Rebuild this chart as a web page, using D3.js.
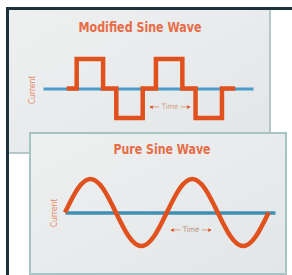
<!DOCTYPE html>
<html>
<head>
<meta charset="utf-8">
<script src="https://cdn.jsdelivr.net/npm/d3@7"></script>
<style>
  html, body { margin: 0; padding: 0; background: #fff; }
  svg { display: block; }
  .title { font-family: "Liberation Sans Narrow", "DejaVu Sans Condensed", sans-serif; font-weight: bold; }
</style>
</head>
<body>
<div id="chart"></div>
<script>
// modified sine wave: step breakpoints (time units) and levels
var modTime = [0, 0.75, 2.75, 3.75, 5.75, 6.75, 8.75, 9.75, 11.75, 12.75];
var modLevel = [0, 1, 0, -1, 0, 1, 0, -1, 0, 0];

// pure sine wave: samples every eighth of a period
var sineTime = [0, 0.5, 1, 1.5, 2, 2.5, 3, 3.5, 4, 4.5, 5, 5.5, 6, 6.5, 7, 7.5, 8];
var sineLevel = [0, 0.71, 1, 0.71, 0, -0.71, -1, -0.71, 0, 0.71, 1, 0.71, 0, -0.71, -1, -0.71, 0];

var titles = ["Modified Sine Wave", "Pure Sine Wave"];
var yLabel = "Current";
var xLabel = "Time";

var W = 292, H = 275;
var orange = "#e0511e", blue = "#4b9cc6";

var svg = d3.select("#chart").append("svg")
    .attr("width", W).attr("height", H);

var defs = svg.append("defs");
var g1 = defs.append("linearGradient").attr("id", "bg").attr("x1", 0).attr("y1", 0).attr("x2", 1).attr("y2", 1);
g1.append("stop").attr("offset", "0%").attr("stop-color", "#eef0f0");
g1.append("stop").attr("offset", "100%").attr("stop-color", "#e3e6e8");

// top panel
svg.append("rect").attr("x", 7).attr("y", 9).attr("width", 263).attr("height", 144)
    .attr("fill", "url(#bg)").attr("stroke", "#9fb8bb").attr("stroke-width", 1.5);
// bottom panel
svg.append("rect").attr("x", 30).attr("y", 133).attr("width", 256).attr("height", 141)
    .attr("fill", "url(#bg)").attr("stroke", "#a6c4c4").attr("stroke-width", 2);
// dark frame edges
svg.append("rect").attr("x", 6).attr("y", 7).attr("width", W - 6).attr("height", 3).attr("fill", "#1e323c");
svg.append("rect").attr("x", 6).attr("y", 7).attr("width", 3).attr("height", H - 7).attr("fill", "#1e323c");

// ---- top: modified sine
var xTop = d3.scaleLinear().domain([-1.8, 14.1]).range([43, 253]);
var yTop = d3.scaleLinear().domain([-1, 1]).range([118, 59]);

svg.append("text").attr("class", "title")
    .attr("x", 140).attr("y", 32).attr("text-anchor", "middle")
    .attr("font-size", 14).attr("fill", "#e76c46")
    .attr("textLength", 123).attr("lengthAdjust", "spacingAndGlyphs")
    .text(titles[0]);

var axTop = svg.append("g").attr("transform", "translate(0," + yTop(0) + ")")
    .call(d3.axisBottom(xTop).ticks(0).tickSizeOuter(0));
axTop.select(".domain").attr("stroke", blue).attr("stroke-width", 3);

var modData = modTime.map(function (t, i) { return { t: t, v: modLevel[i] }; });
svg.append("path").datum(modData)
    .attr("fill", "none").attr("stroke", orange).attr("stroke-width", 4.5)
    .attr("stroke-linejoin", "miter")
    .attr("d", d3.line().curve(d3.curveStepAfter)
        .x(function (d) { return xTop(d.t); })
        .y(function (d) { return yTop(d.v); }));

svg.append("text").attr("transform", "translate(35,90) rotate(-90)")
    .attr("text-anchor", "middle").attr("font-family", "Liberation Sans Narrow, DejaVu Sans Condensed, sans-serif")
    .attr("font-size", 8.5).attr("fill", "#e58a62").text(yLabel);

var tTop = svg.append("text").attr("x", 170).attr("y", 109).attr("text-anchor", "middle")
    .attr("font-family", "DejaVu Sans Condensed, sans-serif").attr("font-size", 7.5);
tTop.append("tspan").attr("fill", orange).text("◂—");
tTop.append("tspan").attr("fill", "#d9a088").text(" " + xLabel + " ");
tTop.append("tspan").attr("fill", orange).text("—▸");

// ---- bottom: pure sine
var xBot = d3.scaleLinear().domain([0, 8.25]).range([65, 275]);
var yBot = d3.scaleLinear().domain([-1, 1]).range([246, 179]);

svg.append("text").attr("class", "title")
    .attr("x", 162).attr("y", 154).attr("text-anchor", "middle")
    .attr("font-size", 14).attr("fill", "#e76c46")
    .attr("textLength", 97).attr("lengthAdjust", "spacingAndGlyphs")
    .text(titles[1]);

var axBot = svg.append("g").attr("transform", "translate(0," + yBot(0) + ")")
    .call(d3.axisBottom(xBot).ticks(0).tickSizeOuter(0));
axBot.select(".domain").attr("stroke", "#3f8fb0").attr("stroke-width", 3.5);

var sineData = sineTime.map(function (t, i) { return { t: t, v: sineLevel[i] }; });
svg.append("path").datum(sineData)
    .attr("fill", "none").attr("stroke", orange).attr("stroke-width", 4.5)
    .attr("d", d3.line().curve(d3.curveNatural)
        .x(function (d) { return xBot(d.t); })
        .y(function (d) { return yBot(d.v); }));

svg.append("text").attr("transform", "translate(57,213) rotate(-90)")
    .attr("text-anchor", "middle").attr("font-family", "Liberation Sans Narrow, DejaVu Sans Condensed, sans-serif")
    .attr("font-size", 8.5).attr("fill", "#e58a62").text(yLabel);

var tBot = svg.append("text").attr("x", 191).attr("y", 232).attr("text-anchor", "middle")
    .attr("font-family", "DejaVu Sans Condensed, sans-serif").attr("font-size", 7.5);
tBot.append("tspan").attr("fill", orange).text("◂—");
tBot.append("tspan").attr("fill", "#b89282").text(" " + xLabel + " ");
tBot.append("tspan").attr("fill", orange).text("—▸");
</script>
</body>
</html>
